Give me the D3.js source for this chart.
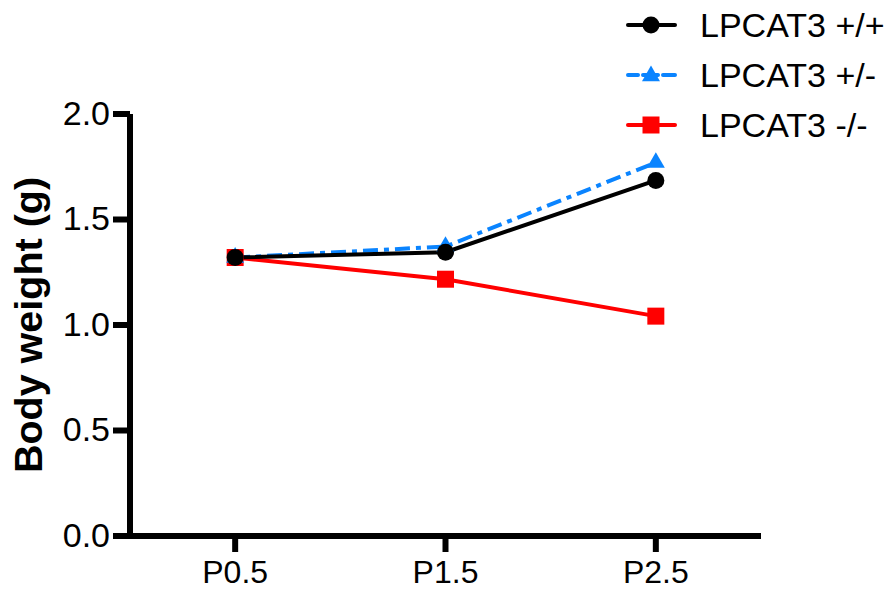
<!DOCTYPE html>
<html>
<head>
<meta charset="utf-8">
<script src="https://cdn.jsdelivr.net/npm/d3@7"></script>
<style>
  html, body { margin: 0; padding: 0; background: #fff; }
  svg { display: block; }
  text { font-family: "Liberation Sans", Arial, Helvetica, sans-serif; }
</style>
</head>
<body>
<svg id="chart" width="888" height="589"></svg>
<script>
// ---- data ----
const categories = ["P0.5", "P1.5", "P2.5"];
const categoryPos = [0.5, 1.5, 2.5];
const seriesNames = ["LPCAT3 +/+", "LPCAT3 +/-", "LPCAT3 -/-"];
const wildType = [1.32, 1.345, 1.685];
const heterozygous = [1.32, 1.372, 1.77];
const knockout = [1.32, 1.217, 1.042];
const yTicks = [0.0, 0.5, 1.0, 1.5, 2.0];
const yTitle = "Body weight (g)";

const series = [
  { name: seriesNames[0], values: wildType, color: "#000000", symbol: d3.symbolCircle, size: 227, dash: null },
  { name: seriesNames[1], values: heterozygous, color: "#0A84FF", symbol: d3.symbolTriangle, size: 140, dash: "15,6,5,6" },
  { name: seriesNames[2], values: knockout, color: "#FF0000", symbol: d3.symbolSquare, size: 289, dash: null }
];

const svg = d3.select("#chart");
const x = d3.scaleLinear().domain([0, 3]).range([130, 761]);
const y = d3.scaleLinear().domain([0, 2]).range([536, 114]);
const FONT = 34;

// ---- axes ----
const yAxis = d3.axisLeft(y).tickValues(yTicks).tickFormat(d3.format(".1f"))
  .tickSizeInner(17).tickSizeOuter(0).tickPadding(3).offset(0);
const gy = svg.append("g").attr("transform", `translate(${x(0)},0)`).call(yAxis);

const xAxis = d3.axisBottom(x).tickValues(categoryPos).tickFormat((d, i) => categories[i])
  .tickSizeInner(16).tickSizeOuter(0).tickPadding(8).offset(0);
const gx = svg.append("g").attr("transform", `translate(0,${y(0)})`).call(xAxis);

[gx, gy].forEach(g => {
  g.select(".domain").attr("stroke", "#000").attr("stroke-width", 6);
  g.selectAll(".tick line").attr("stroke", "#000").attr("stroke-width", 6);
  g.selectAll(".tick text").attr("fill", "#000").style("font-size", FONT + "px")
    .style("font-family", '"Liberation Sans", Arial, Helvetica, sans-serif');
});
gx.selectAll(".tick text").style("font-size", "32px");
gy.select(".domain").attr("d", `M0,${y(0) + 3}V${y(2)}`);

// y title
svg.append("text")
  .attr("transform", `translate(42,${y(1)}) rotate(-90)`)
  .attr("text-anchor", "middle")
  .style("font-size", "39.5px").style("font-weight", "bold")
  .attr("fill", "#000")
  .text(yTitle);

// ---- lines & markers (drawn red, blue, black so black is on top) ----
const line = d3.line().x((d, i) => x(categoryPos[i])).y(d => y(d));
const order = [2, 1, 0];
order.forEach(k => {
  const s = series[k];
  svg.append("path")
    .attr("d", line(s.values))
    .attr("fill", "none")
    .attr("stroke", s.color)
    .attr("stroke-width", 4)
    .attr("stroke-dasharray", s.dash);
});
order.forEach(k => {
  const s = series[k];
  svg.append("g").selectAll("path").data(s.values).join("path")
    .attr("d", d3.symbol().type(s.symbol).size(s.size))
    .attr("transform", (d, i) => `translate(${x(categoryPos[i])},${y(d)})`)
    .attr("fill", s.color);
});

// ---- legend ----
const legend = svg.append("g");
series.forEach((s, i) => {
  const ly = 25 + i * 50;
  const g = legend.append("g").attr("transform", `translate(0,${ly})`);
  g.append("line").attr("x1", 628).attr("x2", 675).attr("y1", 0).attr("y2", 0)
    .attr("stroke", s.color).attr("stroke-width", 4).attr("stroke-linecap", "round")
    .attr("stroke-dasharray", s.dash ? "10,5,15,5,12" : null);
  g.append("path").attr("d", d3.symbol().type(s.symbol).size(s.size))
    .attr("transform", `translate(651,${s.symbol === d3.symbolTriangle ? 1 : 0})`)
    .attr("fill", s.color);
  g.append("text").attr("x", 700).attr("y", 12).attr("fill", "#000")
    .style("font-size", FONT + "px").text(s.name);
});
</script>
</body>
</html>
